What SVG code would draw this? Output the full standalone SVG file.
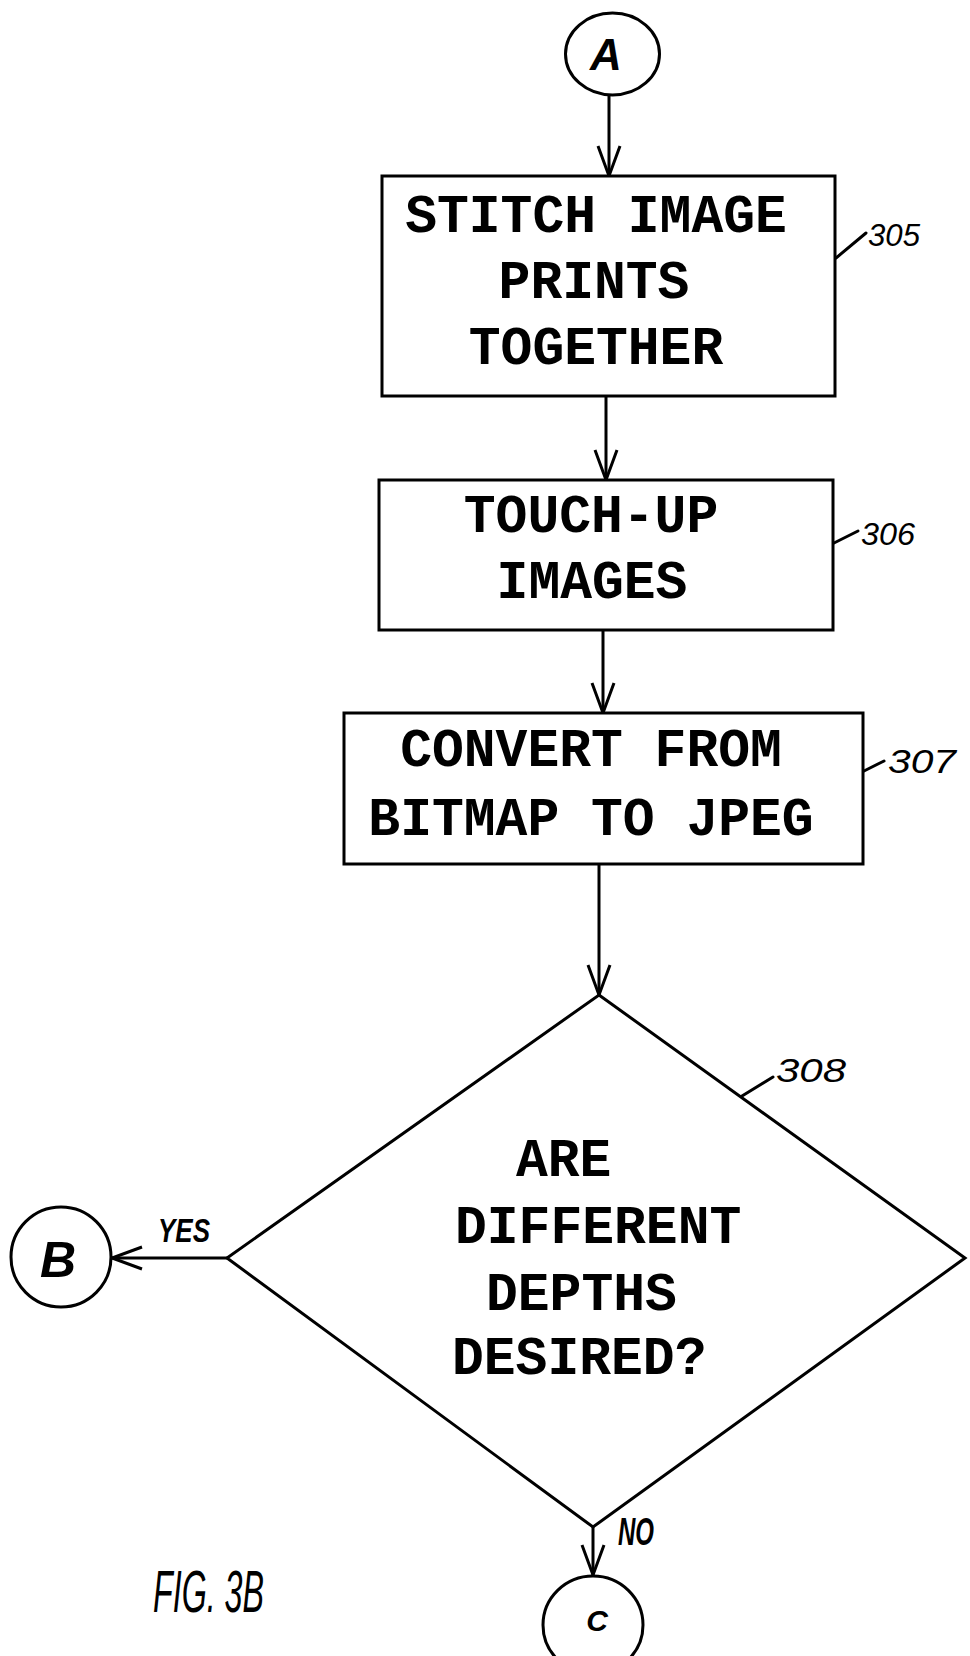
<svg xmlns="http://www.w3.org/2000/svg" width="970" height="1656" viewBox="0 0 970 1656">
  <style>
    .shape { fill: #fff; stroke: #000; stroke-width: 3; }
    .conn { fill: none; stroke: #000; stroke-width: 3; }
    .lead { fill: none; stroke: #000; stroke-width: 3; stroke-linecap: round; }
    .box { font-family: "Liberation Mono", "DejaVu Sans Mono", monospace; font-weight: bold; font-size: 53px; fill: #000; }
    .hand { font-family: "Liberation Sans", "DejaVu Sans", sans-serif; font-style: italic; fill: #000; }
    .conlbl { font-family: "Liberation Sans", "DejaVu Sans", sans-serif; font-style: italic; font-weight: bold; fill: #000; }
  </style>
  <defs>
    <marker id="ah" viewBox="-35 -20 40 40" markerWidth="40" markerHeight="40" refX="0" refY="0" orient="auto" markerUnits="userSpaceOnUse" overflow="visible">
      <path d="M-30,-11 L0,0 L-30,11" fill="none" stroke="#000" stroke-width="3"/>
    </marker>
  </defs>
  <rect width="970" height="1656" fill="#fff"/>

  <g id="connectors">
    <line class="conn" x1="609" y1="95" x2="609" y2="176" marker-end="url(#ah)"/>
    <line class="conn" x1="606" y1="396" x2="606" y2="480" marker-end="url(#ah)"/>
    <line class="conn" x1="603" y1="630" x2="603" y2="713" marker-end="url(#ah)"/>
    <line class="conn" x1="599" y1="864" x2="599" y2="995" marker-end="url(#ah)"/>
    <line class="conn" x1="227" y1="1258" x2="112" y2="1258" marker-end="url(#ah)"/>
    <line class="conn" x1="593" y1="1527" x2="593" y2="1575" marker-end="url(#ah)"/>
    <text class="conlbl" x="158" y="1242" font-size="34" textLength="52" lengthAdjust="spacingAndGlyphs">YES</text>
    <text class="conlbl" x="618" y="1545" font-size="38" textLength="36" lengthAdjust="spacingAndGlyphs">NO</text>
  </g>

  <g id="nodeA">
    <ellipse class="shape" cx="612.5" cy="54" rx="47" ry="41"/>
    <text class="conlbl" x="606" y="70" font-size="44" text-anchor="middle">A</text>
  </g>

  <g id="node305">
    <rect class="shape" x="382" y="176" width="453" height="220"/>
    <text class="box" x="596" y="232" text-anchor="middle">STITCH IMAGE</text>
    <text class="box" x="594" y="298" text-anchor="middle">PRINTS</text>
    <text class="box" x="596" y="364" text-anchor="middle">TOGETHER</text>
    <path class="lead" d="M836,258 L866,233"/>
    <text class="hand" x="868" y="246" font-size="32" textLength="52" lengthAdjust="spacingAndGlyphs">305</text>
  </g>

  <g id="node306">
    <rect class="shape" x="379" y="480" width="454" height="150"/>
    <text class="box" x="591" y="532" text-anchor="middle">TOUCH-UP</text>
    <text class="box" x="592" y="598" text-anchor="middle">IMAGES</text>
    <path class="lead" d="M834,543 L858,531"/>
    <text class="hand" x="861" y="545" font-size="32" textLength="54" lengthAdjust="spacingAndGlyphs">306</text>
  </g>

  <g id="node307">
    <rect class="shape" x="344" y="713" width="519" height="151"/>
    <text class="box" x="591" y="766" text-anchor="middle">CONVERT FROM</text>
    <text class="box" x="591" y="835" text-anchor="middle">BITMAP TO JPEG</text>
    <path class="lead" d="M864,771 L884,761"/>
    <text class="hand" x="888" y="773" font-size="34" textLength="68" lengthAdjust="spacingAndGlyphs">307</text>
  </g>

  <g id="node308">
    <polygon class="shape" points="599,995 965,1258 593,1527 227,1258"/>
    <text class="box" x="516" y="1176">ARE</text>
    <text class="box" x="455" y="1243">DIFFERENT</text>
    <text class="box" x="486" y="1310">DEPTHS</text>
    <text class="box" x="452" y="1374">DESIRED?</text>
    <path class="lead" d="M742,1096 L773,1077"/>
    <text class="hand" x="776" y="1082" font-size="34" textLength="70" lengthAdjust="spacingAndGlyphs">308</text>
  </g>

  <g id="nodeB">
    <circle class="shape" cx="61" cy="1257" r="50"/>
    <text class="conlbl" x="58" y="1277" font-size="50" text-anchor="middle">B</text>
  </g>

  <g id="nodeC">
    <ellipse class="shape" cx="593" cy="1625" rx="50" ry="49"/>
    <text class="conlbl" x="597" y="1631" font-size="30" text-anchor="middle">C</text>
  </g>

  <text class="hand" x="153" y="1612" font-size="60" textLength="111" lengthAdjust="spacingAndGlyphs">FIG. 3B</text>
</svg>
